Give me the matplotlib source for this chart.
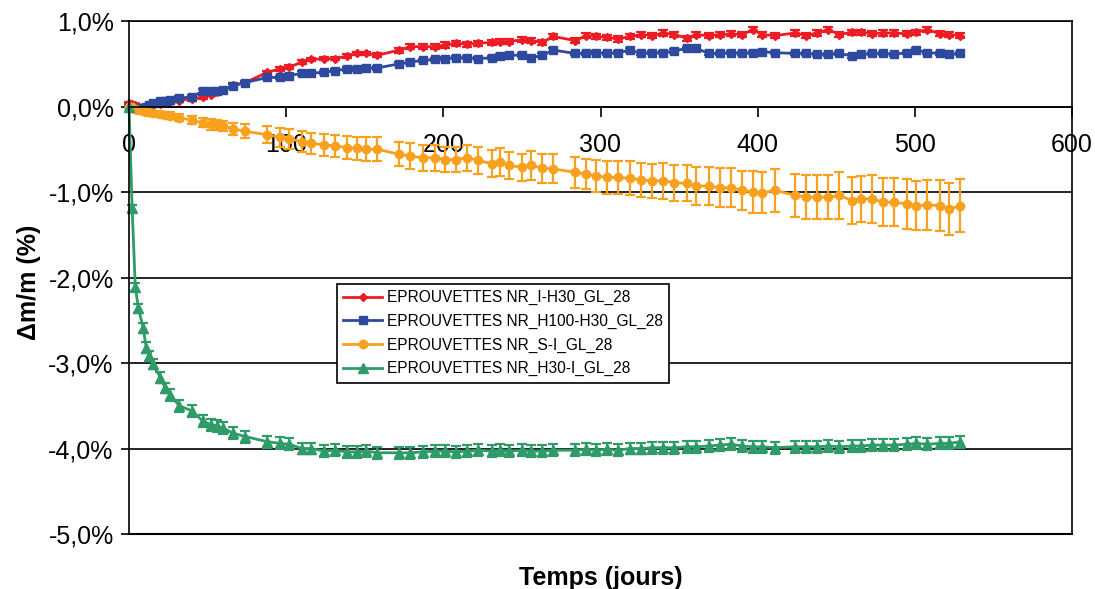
# -*- coding: UTF-8 -*-

import matplotlib
matplotlib.use('Agg')
import matplotlib.pyplot as plt
from matplotlib.ticker import FuncFormatter


# =========================
# data (values in %)
# =========================

days = [0, 2, 4, 6, 9, 11, 13, 15, 20, 23,
        26, 32, 40, 47, 52, 56, 60, 66, 74, 88,
        96, 102, 110, 116, 124, 131, 139, 145, 151, 158,
        172, 179, 187, 195, 201, 208, 215, 222, 231, 236,
        242, 250, 256, 263, 270, 284, 291, 297, 304, 311,
        319, 326, 333, 340, 347, 355, 361, 369, 376, 383,
        390, 397, 403, 411, 424, 431, 438, 445, 452, 460,
        466, 473, 480, 487, 495, 501, 508, 516, 522, 529]

red = [0.04, 0.03, 0.02, 0.01, 0.00, 0.00, 0.01, 0.02, 0.03, 0.04,
       0.05, 0.07, 0.09, 0.11, 0.14, 0.17, 0.19, 0.25, 0.28, 0.40,
       0.44, 0.46, 0.52, 0.55, 0.56, 0.56, 0.59, 0.62, 0.62, 0.60,
       0.66, 0.70, 0.70, 0.70, 0.72, 0.74, 0.73, 0.74, 0.75, 0.76,
       0.76, 0.78, 0.77, 0.75, 0.82, 0.77, 0.83, 0.82, 0.81, 0.79,
       0.82, 0.84, 0.83, 0.86, 0.84, 0.80, 0.84, 0.83, 0.84, 0.85,
       0.84, 0.90, 0.84, 0.83, 0.86, 0.83, 0.86, 0.90, 0.84, 0.87,
       0.87, 0.85, 0.86, 0.86, 0.85, 0.87, 0.90, 0.85, 0.84, 0.83]
red_err = [0.01] * 10 + [0.02] * 20 + [0.03] * 50

blue = [0.00, -0.01, -0.02, -0.03, -0.02, 0.00, 0.02, 0.04, 0.06, 0.07,
        0.08, 0.10, 0.11, 0.18, 0.18, 0.18, 0.19, 0.24, 0.28, 0.34,
        0.34, 0.36, 0.39, 0.39, 0.40, 0.42, 0.44, 0.44, 0.45, 0.45,
        0.50, 0.52, 0.54, 0.55, 0.56, 0.57, 0.57, 0.56, 0.57, 0.59,
        0.60, 0.60, 0.57, 0.60, 0.66, 0.62, 0.62, 0.63, 0.62, 0.63,
        0.66, 0.62, 0.63, 0.63, 0.65, 0.68, 0.68, 0.62, 0.62, 0.63,
        0.62, 0.63, 0.64, 0.63, 0.62, 0.62, 0.61, 0.61, 0.62, 0.59,
        0.61, 0.62, 0.62, 0.61, 0.63, 0.66, 0.63, 0.62, 0.61, 0.62]
blue_err = [0.01] * 10 + [0.02] * 70

orange = [0.00, -0.01, -0.03, -0.04, -0.05, -0.06, -0.07, -0.08, -0.09, -0.10,
          -0.11, -0.13, -0.16, -0.19, -0.21, -0.22, -0.23, -0.26, -0.29, -0.33,
          -0.36, -0.38, -0.41, -0.43, -0.45, -0.46, -0.48, -0.49, -0.50, -0.50,
          -0.56, -0.58, -0.60, -0.60, -0.62, -0.62, -0.60, -0.63, -0.67, -0.65,
          -0.69, -0.71, -0.69, -0.72, -0.73, -0.77, -0.79, -0.81, -0.83, -0.83,
          -0.84, -0.86, -0.87, -0.87, -0.89, -0.90, -0.93, -0.93, -0.95, -0.95,
          -0.98, -1.00, -1.01, -0.98, -1.04, -1.06, -1.06, -1.06, -1.04, -1.10,
          -1.08, -1.08, -1.12, -1.12, -1.14, -1.16, -1.15, -1.16, -1.20, -1.16]
orange_err = [0.00, 0.01, 0.01, 0.02, 0.02, 0.02, 0.03, 0.03, 0.03, 0.04,
              0.04, 0.04, 0.05, 0.05, 0.06, 0.06, 0.06, 0.07, 0.08, 0.10,
              0.11, 0.12, 0.12, 0.12, 0.13, 0.13, 0.13, 0.13, 0.14, 0.14,
              0.14, 0.15, 0.15, 0.15, 0.15, 0.15, 0.15, 0.16, 0.16, 0.16,
              0.16, 0.16, 0.17, 0.17, 0.17, 0.18, 0.18, 0.19, 0.19, 0.19,
              0.20, 0.20, 0.20, 0.21, 0.21, 0.21, 0.22, 0.22, 0.23, 0.23,
              0.23, 0.24, 0.24, 0.25, 0.25, 0.26, 0.26, 0.26, 0.27, 0.27,
              0.27, 0.28, 0.28, 0.28, 0.29, 0.29, 0.29, 0.30, 0.30, 0.31]

green = [0.00, -1.19, -2.11, -2.36, -2.59, -2.82, -2.92, -3.01, -3.17, -3.29,
         -3.37, -3.50, -3.56, -3.68, -3.72, -3.74, -3.76, -3.82, -3.86, -3.92,
         -3.94, -3.95, -4.00, -4.00, -4.03, -4.02, -4.04, -4.04, -4.03, -4.05,
         -4.05, -4.05, -4.04, -4.03, -4.03, -4.04, -4.03, -4.02, -4.03, -4.02,
         -4.03, -4.02, -4.03, -4.03, -4.02, -4.02, -4.01, -4.02, -4.01, -4.02,
         -4.00, -4.00, -3.99, -3.99, -3.99, -3.98, -3.98, -3.97, -3.96, -3.95,
         -3.97, -3.98, -3.98, -3.99, -3.98, -3.98, -3.98, -3.97, -3.98, -3.97,
         -3.97, -3.96, -3.96, -3.96, -3.95, -3.94, -3.95, -3.94, -3.94, -3.92]
green_err = [0.00, 0.04, 0.05, 0.05, 0.06, 0.06, 0.06, 0.06, 0.06, 0.06] + [0.07] * 70

labels = ['EPROUVETTES NR_I-H30_GL_28',
          'EPROUVETTES NR_H100-H30_GL_28',
          'EPROUVETTES NR_S-I_GL_28',
          'EPROUVETTES NR_H30-I_GL_28']

y_ticks = [1, 0, -1, -2, -3, -4, -5]
x_ticks = [0, 100, 200, 300, 400, 500, 600]


# =========================
# plot
# =========================

def pct(v, pos):
    return '{:.1f}%'.format(v).replace('.', ',')


def plot_series(ax, y, err, color, marker, ms):
    c = ax.errorbar(days, y, yerr=err, color=color, marker=marker, ms=ms,
                    lw=2, elinewidth=1.6, capsize=3.5, capthick=1.6, clip_on=False)
    return c[0]


plt.rcParams['font.family'] = ['Liberation Sans', 'DejaVu Sans']

fig = plt.figure(figsize=(10.95, 5.89), dpi=100)
ax = fig.add_axes([129 / 1095, 55 / 589, 943 / 1095, 513 / 589])

handles = [
    plot_series(ax, red, red_err, '#ED1C24', 'D', 4.5),
    plot_series(ax, blue, blue_err, '#2E4A9F', 's', 6),
    plot_series(ax, orange, orange_err, '#F7A11F', 'o', 6),
    plot_series(ax, green, green_err, '#2E9B68', '^', 6.5),
]

ax.set_xlim(0, 600)
ax.set_ylim(-5, 1)
ax.set_yticks(y_ticks)
ax.set_xticks(x_ticks)
ax.yaxis.set_major_formatter(FuncFormatter(pct))

ax.grid(axis='y', color='black', lw=1.2)
ax.axhline(-5, color='black', lw=1.5, clip_on=False)
ax.set_axisbelow(True)
for s in ax.spines.values():
    s.set_linewidth(1.2)
ax.spines['bottom'].set_position(('data', 0))

ax.tick_params(axis='x', direction='out', length=7, width=1.2, pad=12, labelsize=18)
ax.tick_params(axis='y', direction='out', length=6, width=1.2, pad=5, labelsize=18)

ax.set_ylabel('\u0394m/m (%)', fontsize=18, fontweight='bold', va='center')
ax.yaxis.set_label_coords(-0.106, 0.49)
ax.set_xlabel('Temps (jours)', fontsize=18, fontweight='bold', va='center')
ax.xaxis.set_label_coords(0.5, -0.086)

leg = ax.legend(handles, labels, loc='upper left', bbox_to_anchor=(208 / 943, 1 - 263 / 513),
                fontsize=11.2, frameon=True, fancybox=False, framealpha=1,
                edgecolor='black', handlelength=2.5, borderpad=0.4, labelspacing=0.55,
                handletextpad=0.3, borderaxespad=0)
leg.get_frame().set_linewidth(1.2)

plt.savefig('out.png', dpi=100)
plt.close('all')
